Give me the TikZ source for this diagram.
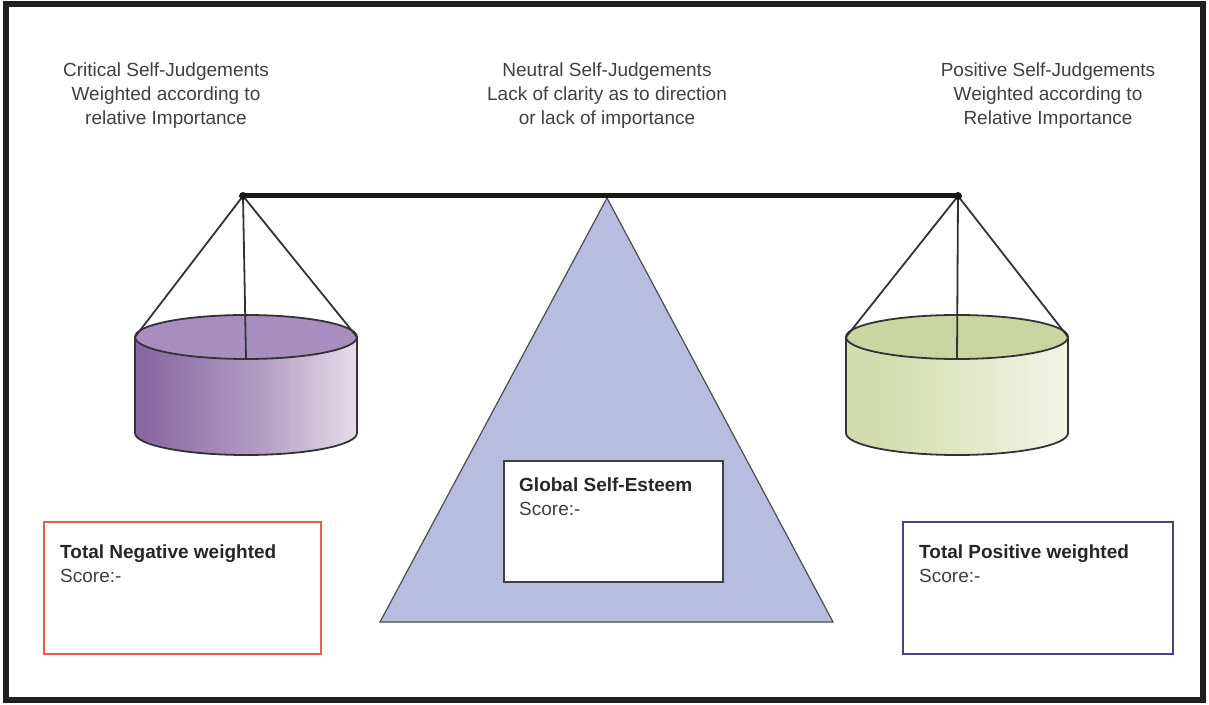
\documentclass[tikz,border=0pt]{standalone}
\usepackage{fontspec}
\setmainfont{Liberation Sans}
\usetikzlibrary{positioning}

\definecolor{framegrey}{HTML}{1E1E1E}
\definecolor{textgrey}{HTML}{404040}
\definecolor{fulcrum}{HTML}{B8BCDE}
\definecolor{negred}{HTML}{E8604A}
\definecolor{posblue}{HTML}{4B3F8C}
\definecolor{purpletop}{HTML}{A98DBE}
\definecolor{purpleside}{HTML}{7A5496}
\definecolor{greentop}{HTML}{CAD6A1}
\definecolor{greenside}{HTML}{D0DAA8}

% side shadings of the two pans
\pgfdeclarehorizontalshading{negpan}{100bp}{color(0bp)=(purpleside!85!white); color(12bp)=(purpleside); color(30bp)=(purpleside!85!white); color(55bp)=(purpleside!55!white); color(86bp)=(white); color(100bp)=(white)}
\pgfdeclarehorizontalshading{pospan}{100bp}{color(0bp)=(greenside); color(35bp)=(greenside!90!white); color(92bp)=(white); color(100bp)=(white)}

% #1 centre x, #2 side shading, #3 top colour
\newcommand{\scalepan}[3]{%
  \shade[shading=#2] ({#1-111},367) -- ({#1-111},271)
    arc[start angle=180, end angle=360, x radius=111, y radius=22] -- ({#1+111},367) -- cycle;
  \draw[panline] ({#1-111},367) -- ({#1-111},271)
    arc[start angle=180, end angle=360, x radius=111, y radius=22] -- ({#1+111},367);
  \draw[panline, fill=#3] (#1,367) ellipse[x radius=111, y radius=22];
}

\begin{document}
\begin{tikzpicture}[
  x=1pt, y=1pt,
  font=\fontsize{19}{24}\selectfont,
  toplabel/.style={align=center, text=textgrey, inner sep=0pt},
  scorebox/.style={draw, line width=2.4pt, fill=white, inner sep=0pt,
    minimum width=277, minimum height=132, anchor=south west},
  scoretext/.style={align=left, text=textgrey, inner sep=0pt},
  panline/.style={line width=1.8pt, draw=black!80},
  string/.style={line width=1.8pt, draw=black!80}
]
\useasboundingbox (0,0) rectangle (1209,704);

% Outer frame
\draw[line width=6pt, framegrey] (6,4) rectangle (1203,700);

% Headings
\node[toplabel] (critical) at (166,608) {Critical Self-Judgements\\Weighted according to\\relative Importance};
\node[toplabel] (neutral) at (607,608) {Neutral Self-Judgements\\Lack of clarity as to direction\\or lack of importance};
\node[toplabel] (positive) at (1048,608) {Positive Self-Judgements\\Weighted according to\\Relative Importance};

% Fulcrum
\draw[fill=fulcrum, draw=black!70, line width=1.2pt] (607,506) -- (833,82) -- (380,82) -- cycle;

% Pivots and pan attachment points
\coordinate (lpivot) at (243,508);
\coordinate (rpivot) at (958,508);
\coordinate (lpanL) at (135,367);
\coordinate (lpanR) at (357,367);
\coordinate (lpanF) at (246,345);
\coordinate (rpanL) at (846,367);
\coordinate (rpanR) at (1068,367);
\coordinate (rpanF) at (957,345);

% Pans
\scalepan{246}{negpan}{purpletop}
\scalepan{957}{pospan}{greentop}

% Strings
\draw[string] (lpivot) -- (lpanL);
\draw[string] (lpivot) -- (lpanF);
\draw[string] (lpivot) -- (lpanR);
\draw[string] (rpivot) -- (rpanL);
\draw[string] (rpivot) -- (rpanF);
\draw[string] (rpivot) -- (rpanR);

% Beam
\draw[line width=5pt, line cap=round, black!90] (lpivot) -- (rpivot);
\fill[black!90] (lpivot) circle (4) (rpivot) circle (4);

% Score boxes
\node[scorebox, draw=negred] (negbox) at (43,49) {};
\node[scorebox, draw=posblue, minimum width=270] (posbox) at (902,49) {};
\node[scorebox, draw=black!75, line width=1.6pt, minimum width=219, minimum height=121] (globalbox) at (503,121) {};

\node[scoretext, below right=24 and 17 of negbox.north west] (negtext) {\textbf{\color{black!85}Total Negative weighted}\\Score:-};
\node[scoretext, below right=24 and 17 of posbox.north west] (postext) {\textbf{\color{black!85}Total Positive weighted}\\Score:-};
\node[scoretext, below right=17 and 16 of globalbox.north west] (globaltext) {\textbf{\color{black!85}Global Self-Esteem}\\Score:-};

\end{tikzpicture}
\end{document}
